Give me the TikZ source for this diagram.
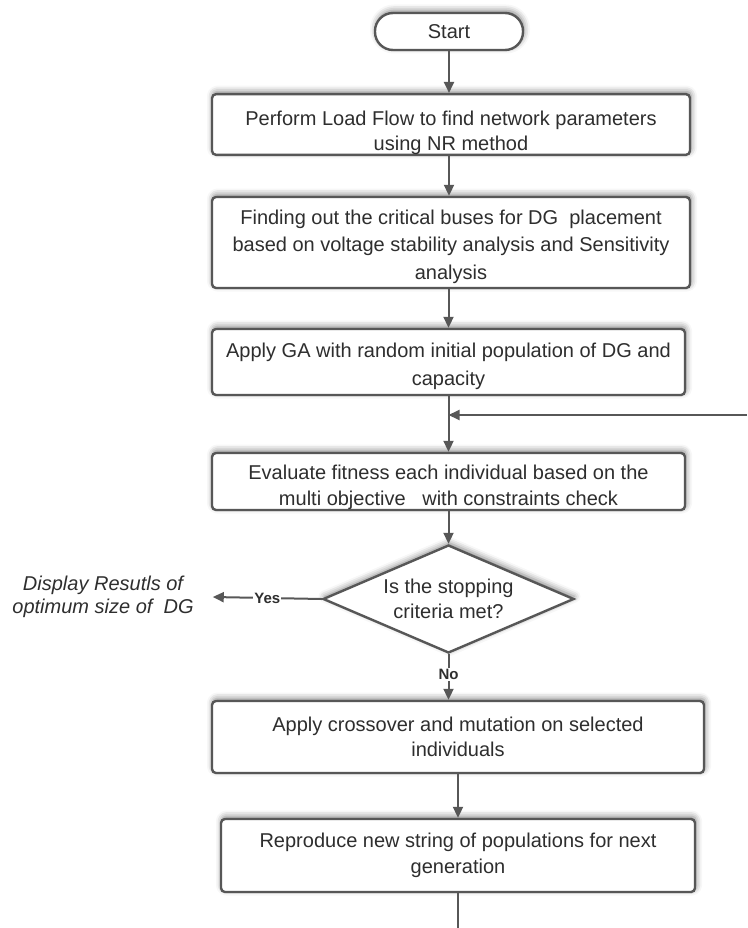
\documentclass[tikz,border=0pt]{standalone}
\usepackage{fontspec}
\setmainfont{Liberation Sans}
\usepackage{tikz}
\usetikzlibrary{shapes.geometric, arrows.meta, positioning, shadows.blur}
\definecolor{linegray}{HTML}{575757}
\definecolor{textgray}{HTML}{2E2E2E}

\begin{document}
\begin{tikzpicture}[x=1pt, y=-1pt,
					flowbox/.style={rectangle,
					rounded corners=4pt,
					line width=2.4pt,
					draw=linegray,
					fill=white,
					text=textgray,
					align=center,
					inner sep=0pt,
					font=\fontsize{20}{25.5}\selectfont,
					blur shadow={shadow xshift=1pt, shadow yshift=2.5pt, shadow blur radius=6pt, shadow opacity=50}},
					startnode/.style={flowbox,
					rounded corners=18pt,
					minimum width=148pt,
					minimum height=37pt},
					decisionnode/.style={flowbox,
					diamond,
					sharp corners,
					aspect=2.3,
					minimum width=251pt,
					minimum height=108pt},
					flowarrow/.style={-{Triangle[length=11pt,width=10pt]}, linegray, line width=2pt},
					flowline/.style={linegray, line width=2pt},
					flowlabel/.style={fill=white, text=textgray, inner sep=1pt,
					font=\bfseries\fontsize{15}{17}\selectfont}
					]

% fixed page size, same as the reference
\useasboundingbox (0,0) rectangle (747,928);

% main column
\node[startnode]  (start) at (449,31.5) {Start};
\node[flowbox, minimum width=478pt, minimum height=55pt]  (load) [below of = start, node distance=93pt, xshift=2pt]
	{\rule{0pt}{31pt}Perform Load Flow to find network parameters\\using NR method};
\node[flowbox, minimum width=478pt, minimum height=91pt, font=\fontsize{20}{27.5}\selectfont]  (critical) [below of = load, node distance=118pt]
	{\rule{0pt}{23pt}Finding out the critical buses for DG~ placement\\based on voltage stability analysis and Sensitivity\\analysis};
\node[flowbox, minimum width=473pt, minimum height=66pt, font=\fontsize{20}{27.5}\selectfont]  (initga) [below of = critical, node distance=119.5pt, xshift=-2.5pt]
	{\rule{0pt}{23pt}Apply GA with random initial population of DG and\\capacity};
\node[flowbox, minimum width=473pt, minimum height=57pt]  (fitness) [below of = initga, node distance=119.5pt]
	{\rule{0pt}{26pt}Evaluate fitness each individual based on the\\multi objective~~ with constraints check};
\node[decisionnode]  (stopping) [below of = fitness, node distance=117.5pt]
	{Is the stopping\\criteria met?};
\node[flowbox, minimum width=492pt, minimum height=72pt]  (crossover) [below of = stopping, node distance=138pt, xshift=9.5pt]
	{Apply crossover and mutation on selected\\individuals};
\node[flowbox, minimum width=474pt, minimum height=73pt]  (reproduce) [below of = crossover, node distance=118.5pt]
	{Reproduce new string of populations for next\\generation};

% result text on the left
\node[text=textgray, align=center, inner xsep=19pt, inner ysep=0pt,
	font=\itshape\fontsize{20}{23}\selectfont]  (result) [left of = stopping, node distance=345.5pt, yshift=2pt]
	{Display Resutls of\\optimum size of~ DG};

% loop ends (cut by the page edge)
\coordinate (loopin) at (747,415);
\coordinate (loopout) at (458,928);

% arrows down the column
\path[flowarrow] (start.south) edge (start.south |- load.north);
\path[flowarrow] (load.south -| start.south) edge (start.south |- critical.north);
\path[flowarrow] (critical.south -| initga.north) edge (initga.north);
\path[flowarrow] (initga.south) edge (fitness.north);
\path[flowarrow] (fitness.south) edge (stopping.north);
\path[flowarrow] (stopping.south) edge node[flowlabel, pos=0.44] {No} (stopping.south |- crossover.north);
\path[flowarrow] (crossover.south) edge (reproduce.north);

% decision yes
\path[flowarrow] (stopping.west) edge node[flowlabel, pos=0.5] {Yes} (result.east);

% loop back
\path[flowline] (reproduce.south) edge (loopout);
\path[flowarrow] (loopin) edge (initga.south |- loopin);

\end{tikzpicture}
\end{document}
